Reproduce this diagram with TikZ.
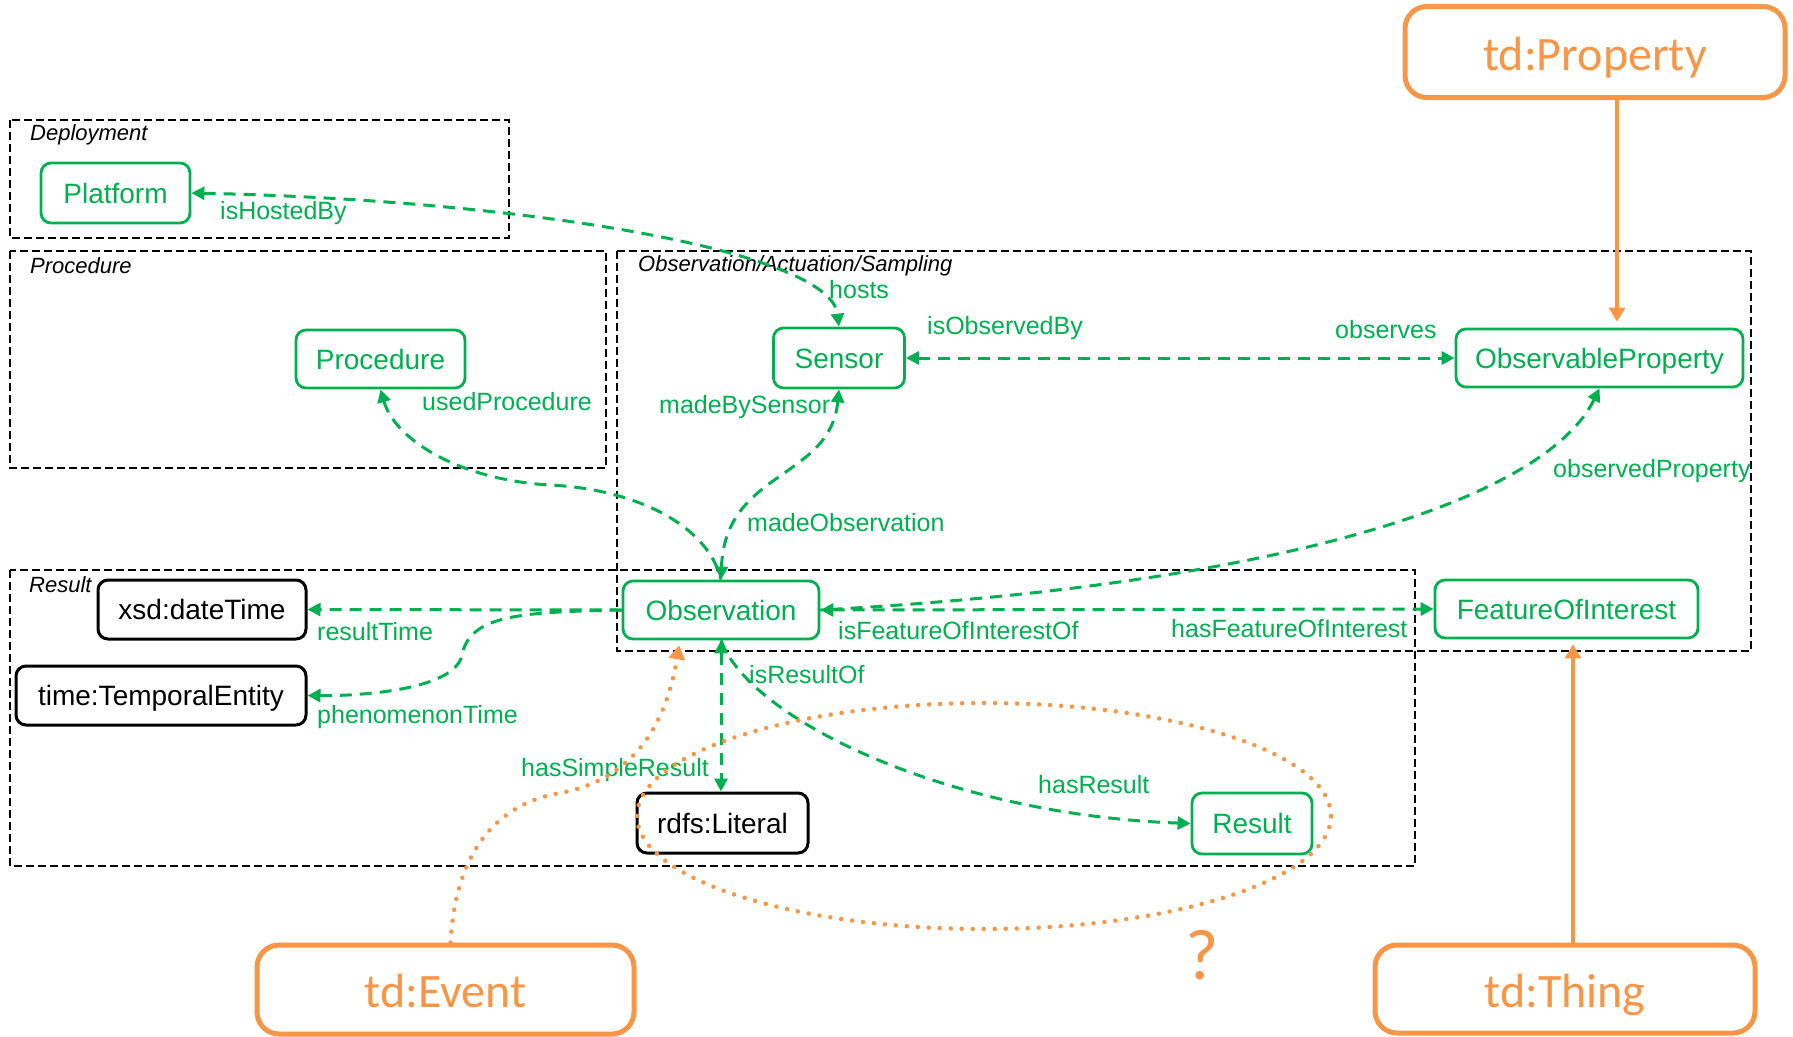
\documentclass[tikz,border=0pt]{standalone}
\usepackage{fontspec}
\setmainfont{Liberation Sans}
\newfontfamily\calfont{Carlito}
\usetikzlibrary{arrows.meta,calc}
\definecolor{sgreen}{RGB}{0,176,80}
\definecolor{sorange}{RGB}{247,150,70}
\begin{document}
\begin{tikzpicture}[x=1pt,y=-1pt,
  gnode/.style={draw=sgreen,text=sgreen,line width=2.8pt,rounded corners=10pt,inner sep=0pt,text height=20pt,text depth=0pt,font=\fontsize{28}{33}\selectfont},
  bnode/.style={draw=black,text=black,line width=3pt,rounded corners=10pt,inner sep=0pt,text height=20pt,text depth=0pt,font=\fontsize{28}{33}\selectfont},
  onode/.style={draw=sorange,text=sorange,line width=5pt,rounded corners=22pt,inner sep=0pt,text height=36pt,text depth=0pt,font=\calfont\fontsize{48}{57}\selectfont},
  grp/.style={draw=black,line width=2.5pt,dash pattern=on 8pt off 4pt},
  grplabel/.style={anchor=west,inner sep=0pt,font=\itshape\fontsize{22}{26}\selectfont},
  elabel/.style={anchor=west,inner sep=0pt,text=sgreen,font=\fontsize{25}{29}\selectfont},
  gconn/.style={draw=sgreen,line width=3pt,dash pattern=on 12pt off 8pt},
  gtip/.tip={Triangle[length=13pt,width=13pt]},
  oconn/.style={draw=sorange,line width=4pt},
  odots/.style={draw=sorange,line width=4.5pt,line cap=round,dash pattern=on 0pt off 11pt},
  otip/.tip={Triangle[length=14pt,width=16pt]}
]
\useasboundingbox (0,0) rectangle (1793,1036);

% group boxes
\draw[grp] (10,120) rectangle (509,238);
\draw[grp] (10,251) rectangle (606,468);
\draw[grp] (617,251) rectangle (1751,651);
\draw[grp] (10,570) rectangle (1415,866);
\node[grplabel] (lDep) at (30,135) {Deployment};
\node[grplabel] (lProc) at (30,266) {Procedure};
\node[grplabel] (lOAS) at (638,266) {Observation/Actuation/Sampling};
\node[grplabel] (lRes) at (29,585) {Result};

% nodes
\node[gnode,minimum width=149pt,minimum height=60pt] (platform) at (115.5,193) {Platform};
\node[gnode,minimum width=169pt,minimum height=58pt] (procedure) at (380.5,359) {Procedure};
\node[gnode,minimum width=131pt,minimum height=60pt] (sensor) at (839,358) {Sensor};
\node[gnode,minimum width=287pt,minimum height=58pt] (obsprop) at (1599.5,358) {ObservableProperty};
\node[gnode,minimum width=196pt,minimum height=58pt] (observation) at (721,610) {Observation};
\node[gnode,minimum width=263pt,minimum height=58pt] (foi) at (1566.5,609) {FeatureOfInterest};
\node[bnode,minimum width=208pt,minimum height=59pt] (xsd) at (202,609.5) {xsd:dateTime};
\node[bnode,minimum width=290pt,minimum height=59pt] (temporal) at (161,695.5) {time:TemporalEntity};
\node[bnode,minimum width=171pt,minimum height=60pt] (literal) at (722.5,823) {rdfs:Literal};
\node[gnode,minimum width=120pt,minimum height=61pt] (result) at (1252,823.5) {Result};
\node[onode,minimum width=380pt,minimum height=91pt] (tdprop) at (1595,52) {td:Property};
\node[onode,minimum width=377pt,minimum height=89pt] (tdevent) at (445.5,989.5) {td:Event};
\node[onode,minimum width=380pt,minimum height=88pt] (tdthing) at (1565,989) {td:Thing};

% green connectors
\draw[gconn,{gtip}-{gtip}] (platform.east) .. controls (520,200) and (830,250) .. (sensor.north);
\draw[gconn,{gtip}-{gtip}] (sensor.east) -- (obsprop.west);
\draw[gconn,{gtip}-{gtip}] (sensor.south) .. controls (830,480) and (725,470) .. (observation.north);
\draw[gconn,{gtip}-] (procedure.south) .. controls (395,440) and (460,480) .. (550,485) .. controls (635,489) and (708,525) .. (observation.north);
\draw[gconn,{gtip}-] (obsprop.south) .. controls (1545,500) and (1280,585) .. (observation.east);
\draw[gconn,{gtip}-{gtip}] (observation.east) -- (foi.west);
\draw[gconn,-{gtip}] (observation.west) -- (xsd.east);
\draw[gconn,-{gtip}] (observation.west) .. controls (520,612) and (470,615) .. (462,655) .. controls (455,690) and (360,696) .. (temporal.east);
\draw[gconn,{gtip}-{gtip}] (observation.south) -- (observation.south |- literal.north);
\draw[gconn,-{gtip}] (observation.south) .. controls (750,720) and (950,815) .. (result.west);

% edge labels
\node[elabel] (tHosted) at (220,213) {isHostedBy};
\node[elabel] (tHosts) at (829,290) {hosts};
\node[elabel] (tObsBy) at (927,328) {isObservedBy};
\node[elabel] (tObserves) at (1335,330) {observes};
\node[elabel] (tMadeBy) at (659,407) {madeBySensor};
\node[elabel] (tUsedProc) at (422,402) {usedProcedure};
\node[elabel] (tMadeObs) at (747,523) {madeObservation};
\node[elabel] (tObsProp) at (1553,471) {observedProperty};
\node[elabel] (tResTime) at (317,632) {resultTime};
\node[elabel] (tPhenTime) at (317,717) {phenomenonTime};
\node[elabel] (tFoiOf) at (838,631) {isFeatureOfInterestOf};
\node[elabel] (tHasFoi) at (1171,629) {hasFeatureOfInterest};
\node[elabel] (tResOf) at (749,675) {isResultOf};
\node[elabel] (tSimple) at (521,770) {hasSimpleResult};
\node[elabel] (tHasRes) at (1038,785) {hasResult};

% orange connectors
\coordinate (pa) at (1617,0);
\coordinate (ta) at (1573,0);
\draw[oconn,-{otip},shorten >=6pt] (tdprop.south -| pa) -- (obsprop.north -| pa);
\draw[oconn,-{otip},shorten >=5pt] (tdthing.north -| ta) -- (foi.south -| ta);
\draw[odots,-{otip},shorten >=5pt] ([xshift=5pt]tdevent.north) .. controls (455,860) and (490,805) .. (560,793) .. controls (630,780) and (665,730) .. ([xshift=-41pt]observation.south);
\draw[odots] (984,816) ellipse [x radius=347pt, y radius=113pt];
\node[text=sorange,inner sep=0pt,font=\calfont\fontsize{72}{80}\selectfont] (qmark) at (1202,955) {?};
\end{tikzpicture}
\end{document}
